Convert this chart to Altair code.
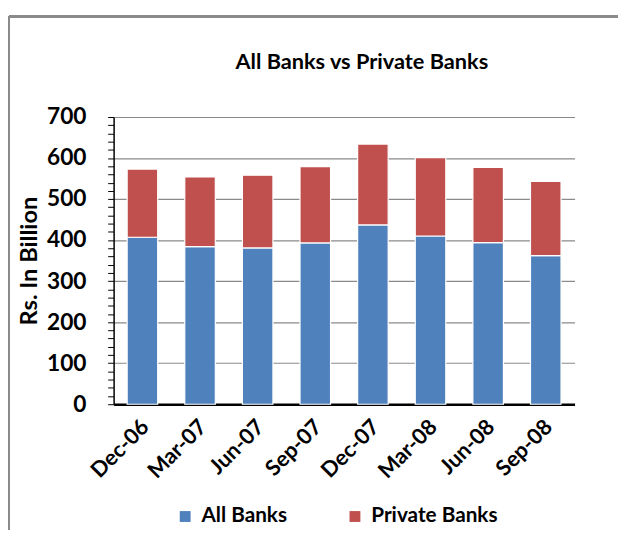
import altair as alt
import pandas as pd

quarters = ["Dec-06", "Mar-07", "Jun-07", "Sep-07", "Dec-07", "Mar-08", "Jun-08", "Sep-08"]
all_banks = [407, 384, 381, 393, 437, 410, 394, 362]
private_banks = [166, 170, 177, 186, 197, 191, 183, 181]
series = ["All Banks", "Private Banks"]
colors = ["#4F81BD", "#C0504D"]
tick_values = list(range(0, 701, 20))

rows = []
for q, a, p in zip(quarters, all_banks, private_banks):
    rows.append({"Quarter": q, "Series": series[0], "Value": a, "ord": 0})
    rows.append({"Quarter": q, "Series": series[1], "Value": p, "ord": 1})
df = pd.DataFrame(rows)

FONT = "Lato"

bars = alt.Chart(df).mark_bar(stroke="white", strokeWidth=1.2).encode(
    x=alt.X("Quarter:N", sort=quarters, title=None,
            scale=alt.Scale(paddingInner=0.47, paddingOuter=0.235),
            axis=alt.Axis(labelAngle=-45, labelAlign="right", labelBaseline="middle",
                          labelPadding=19, labelOffset=3, ticks=False, labelFont=FONT,
                          labelFontSize=22, labelFontWeight="bold", labelColor="black",
                          domainColor="black", domainWidth=2.5)),
    y=alt.Y("Value:Q", stack="zero", title="Rs. In Billion",
            scale=alt.Scale(domain=[0, 700], nice=False),
            axis=alt.Axis(values=tick_values,
                          labelExpr="datum.value % 100 === 0 ? datum.label : ''",
                          tickSize=6, tickColor="black", tickWidth=1,
                          labelFont=FONT, labelFontSize=23, labelFontWeight="bold",
                          labelColor="black", labelPadding=22,
                          titleFont=FONT, titleFontSize=24, titleFontWeight="bold",
                          titleColor="black", titlePadding=5,
                          domainColor="black", domainWidth=1.5,
                          grid=True, gridColor="#8a8a8a", gridWidth=1.2,
                          gridOpacity={"condition": {"test": "datum.value % 100 === 0 && datum.value > 0", "value": 1}, "value": 0})),
    color=alt.Color("Series:N", sort=series,
                    scale=alt.Scale(domain=series, range=colors),
                    legend=alt.Legend(title=None, orient="none", direction="horizontal",
                                      legendX=62, legendY=394,
                                      symbolType="square", symbolSize=121,
                                      symbolStrokeWidth=0,
                                      labelFont=FONT, labelFontSize=21,
                                      labelFontWeight="bold", labelColor="black",
                                      labelOffset=6, columnPadding=58)),
    order=alt.Order("ord:Q"),
)

frame_top = alt.Chart(df).mark_rule(color="#8a8a8a", strokeWidth=2, clip=False).encode(
    x=alt.value(-106), x2=alt.value(520), y=alt.value(-102)
)
frame_left = alt.Chart(df).mark_rule(color="#8a8a8a", strokeWidth=2, clip=False).encode(
    x=alt.value(-106), y=alt.value(-102), y2=alt.value(440)
)

chart = alt.layer(bars, frame_top, frame_left).properties(
    width=467, height=291,
    title=alt.TitleParams("All Banks vs Private Banks", font=FONT, fontSize=22,
                          fontWeight="bold", color="black", anchor="middle",
                          dx=18, offset=-76, baseline="alphabetic"),
    padding={"left": 107, "top": 107, "right": 44, "bottom": 124},
    autosize=alt.AutoSizeParams(type="none"),
).configure_view(stroke=None)

chart.save("out.html", embed_options={"renderer": "svg", "actions": False})
